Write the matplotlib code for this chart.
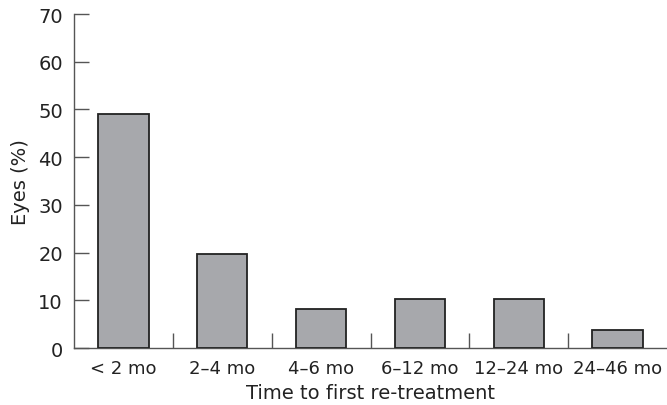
import numpy as np
import matplotlib.pyplot as plt

categories = ["< 2 mo", "2\u20134 mo", "4\u20136 mo", "6\u201312 mo", "12\u201324 mo", "24\u201346 mo"]
eyes_pct = [49.0, 19.7, 8.1, 10.4, 10.3, 3.7]
y_ticks = [0, 10, 20, 30, 40, 50, 60, 70]


def main():
    plt.rcParams['font.family'] = ['DejaVu Sans']
    fig = plt.figure(figsize=(6.67, 4.06), dpi=100)
    ax = fig.add_axes([0.111, 0.140, 0.889, 0.823])

    x = np.arange(len(categories))
    ax.bar(x, eyes_pct, width=0.51, color='#a7a8ac', edgecolor='#222222', linewidth=1.3, zorder=3)

    ax.set_xlim(-0.5, len(categories) - 0.5)
    ax.set_ylim(0, 70)
    ax.set_yticks(y_ticks)

    # category labels sit between the boundary ticks
    ax.set_xticks(x[:-1] + 0.5)
    ax.set_xticklabels([])
    ax.set_xticks(x, minor=True)
    ax.set_xticklabels(categories, minor=True)
    ax.tick_params(axis='x', which='minor', length=0, pad=8, labelsize=13, colors='#222222')
    ax.tick_params(axis='x', which='major', direction='in', length=11, width=1, color='#555555')
    ax.tick_params(axis='y', direction='in', length=11, width=1, color='#555555',
                   labelsize=14, labelcolor='#222222', pad=8)

    for side in ['top', 'right']:
        ax.spines[side].set_visible(False)
    for side in ['left', 'bottom']:
        ax.spines[side].set_color('#555555')
        ax.spines[side].set_linewidth(1)

    ax.set_xlabel("Time to first re-treatment", fontsize=14, color='#222222', labelpad=4)
    ax.set_ylabel("Eyes (%)", fontsize=14, color='#222222', labelpad=6)

    fig.savefig("out.png", dpi=100)


if __name__ == "__main__":
    main()
